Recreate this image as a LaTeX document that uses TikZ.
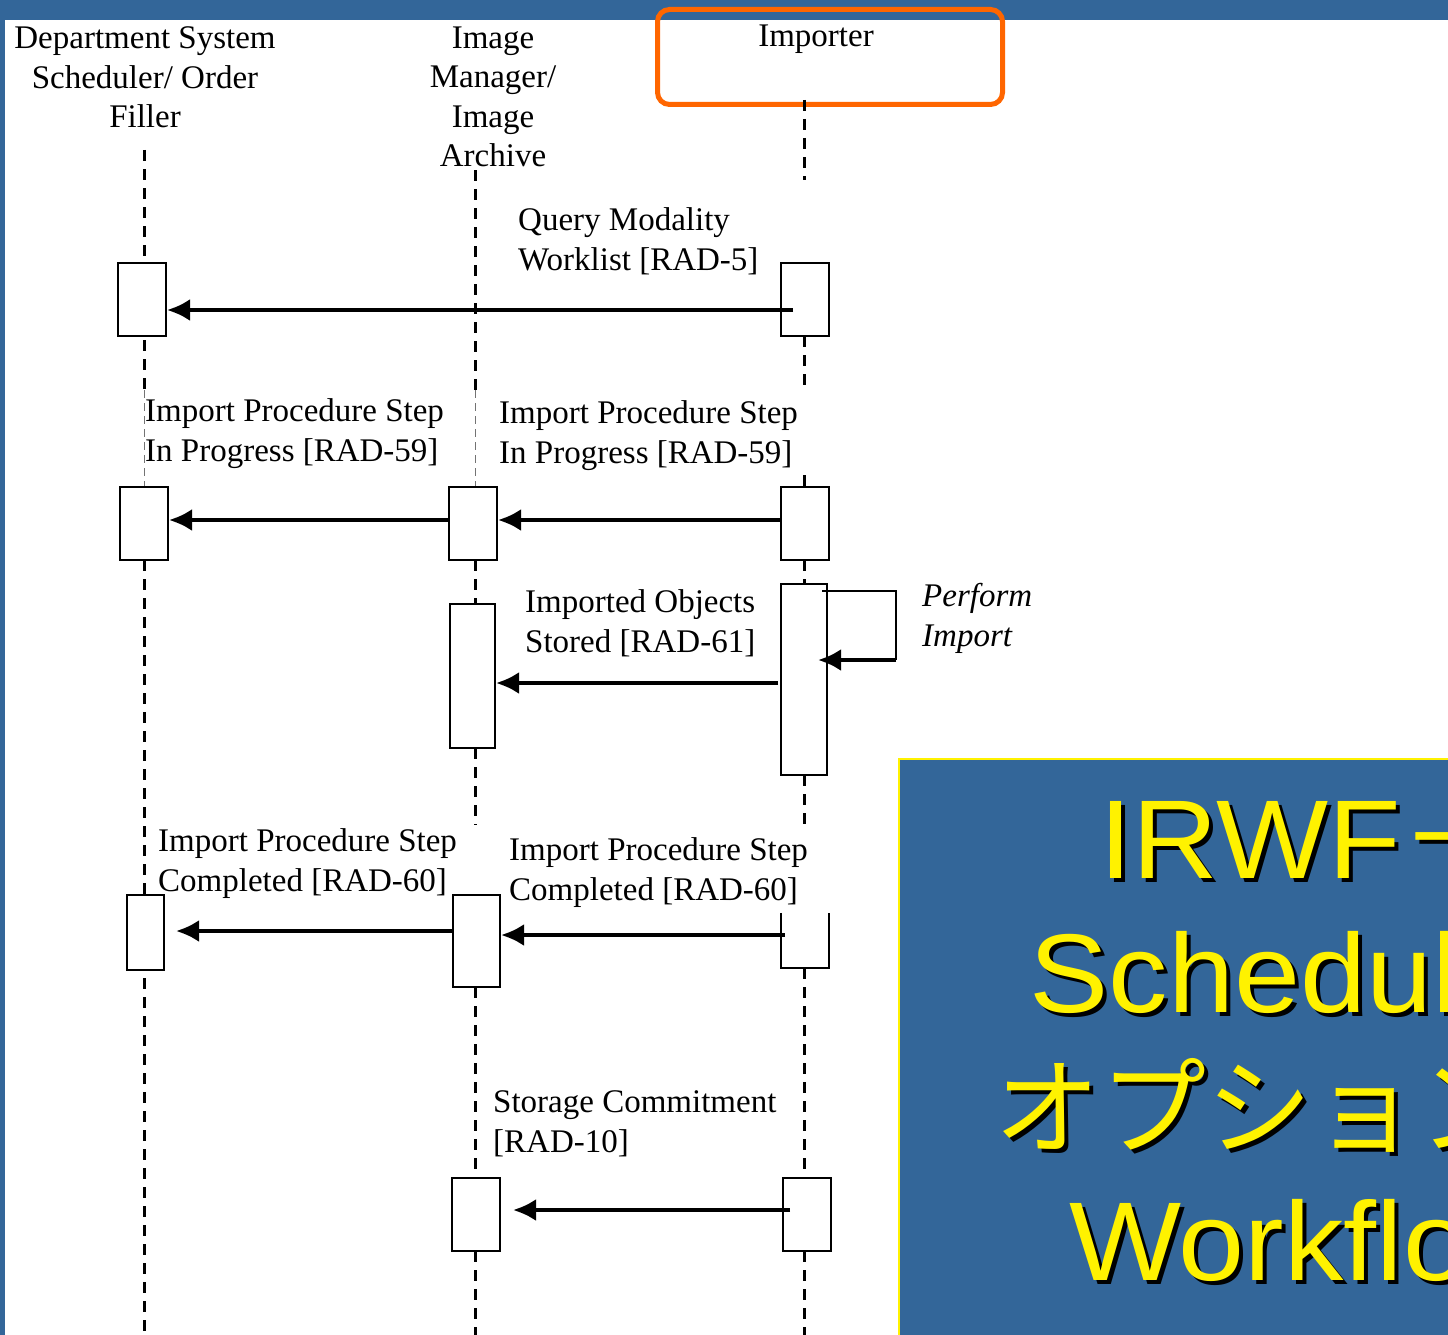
\documentclass[tikz,border=0pt]{standalone}
\usepackage{fontspec}
\setmainfont{Liberation Serif}
\newfontfamily\titlefont[FakeStretch=1.06]{Liberation Sans}
\newfontfamily\cjkfont{Noto Sans CJK JP}
\usetikzlibrary{positioning,calc,arrows.meta}
\definecolor{slideblue}{HTML}{336699}
\definecolor{hiorange}{HTML}{FF6600}

\begin{document}
\begin{tikzpicture}[
        x=1pt, y=-1pt,
        every node/.style={font=\fontsize{33}{39.5}\selectfont},
        actor/.style={align=center, anchor=north, inner sep=0pt},
        msglabel/.style={align=left, anchor=north west, inner sep=3pt},
        lifeline/.style={dash pattern=on 11pt off 8pt, line width=3pt},
        faintline/.style={dash pattern=on 8pt off 5pt, line width=1pt, black!55},
        act/.style 2 args={rectangle, draw, fill=white, line width=2pt, inner sep=0pt, minimum width=#1, minimum height=#2},
        msg/.style={-{Latex[length=23pt,width=22pt]}, line width=4pt},
        selfline/.style={line width=2pt},
        hilite/.style={rectangle, draw=hiorange, line width=5pt, rounded corners=12pt, minimum width=345pt, minimum height=95pt, inner sep=0pt},
        titlebox/.style={rectangle, draw=yellow, line width=2pt, fill=slideblue, anchor=north west, minimum width=600pt, minimum height=620pt, inner sep=0pt},
        titletxt/.style={anchor=base, inner sep=0pt, text=yellow, font=\titlefont\fontsize{112}{134}\selectfont},
        titleshadow/.style={titletxt, text=black}
    ]
    \useasboundingbox (0,0) rectangle (1448,1335);
    \fill[white] (0,0) rectangle (1448,1335);

    % Slide frame
    \fill[slideblue] (0,0) rectangle (1448,20);
    \fill[slideblue] (0,0) rectangle (5,1335);

    % Lifeline heads
    \node[actor] (dss) at (145,26.5) {Department System\\Scheduler/ Order\\Filler};
    \node[actor] (im) at (493,26.5) {Image\\Manager/\\Image\\Archive};
    \node[actor] (imp) at (816,24.5) {Importer};
    \node[hilite] (hl) at (830,57) {};

    % Lifelines
    \draw[lifeline] (144,150) -- (144,390);
    \draw[faintline] (144,390) -- (144,487);
    \draw[lifeline] (144,560) -- (144,1335);
    \foreach \ya/\yb in {170/390, 560/604, 748/825, 987/1178, 1251/1335}
        \draw[lifeline] (475,\ya) -- (475,\yb);
    \draw[faintline] (475,390) -- (475,487);
    \foreach \ya/\yb in {100/180, 336/390, 475/487, 560/584, 775/825, 968/1178, 1251/1335}
        \draw[lifeline] (804,\ya) -- (804,\yb);

    % Activation boxes
    \node[act={48pt}{73pt}] (dssA) at (142,299.5) {};
    \node[act={48pt}{73pt}] (impA) at (805,299.5) {};

    \node[act={48pt}{73pt}] (dssB) at (144,523.5) {};
    \node[act={48pt}{73pt}] (imB) at (473,523.5) {};
    \node[act={48pt}{73pt}] (impB) at (805,523.5) {};

    \node[act={45pt}{144pt}] (imC) at (472.5,676) {};
    \node[act={46pt}{191pt}] (impC) at (804,679.5) {};

    \node[act={37pt}{75pt}] (dssD) at (145.5,932.5) {};
    \node[act={47pt}{92pt}] (imD) at (476.5,941) {};
    \node[inner sep=0pt, fill=white, minimum width=48pt, minimum height=55pt] (impD) at (805,940.5) {};
    \draw[line width=2pt] (impD.north west) -- (impD.south west) -- (impD.south east) -- (impD.north east);

    \node[act={48pt}{73pt}] (imE) at (476,1214.5) {};
    \node[act={48pt}{73pt}] (impE) at (807,1214.5) {};

    % Messages
    \coordinate (qry) at (793,310);
    \draw[msg] (qry) -- (qry -| dssA.east);

    \draw[msg] ([yshift=3.5pt]imB.west) -- ([yshift=3.5pt]dssB.east);
    \draw[msg] ([yshift=3.5pt]impB.west) -- ([yshift=3.5pt]imB.east);

    \coordinate (loopA) at (822,591);
    \coordinate (loopB) at (896,660);
    \draw[selfline] (loopA) -| (loopB);
    \draw[msg] (loopB) -- ($(loopB -| impC.east)+(-10,0)$);
    \coordinate (stored) at (778,683);
    \draw[msg] (stored) -- (stored -| imC.east);

    \coordinate (doneL) at (453,931);
    \coordinate (doneR) at (785,935);
    \draw[msg] (doneL) -- ($(doneL -| dssD.east)+(11,0)$);
    \draw[msg] (doneR) -- (doneR -| imD.east);

    \coordinate (commit) at (790,1210);
    \draw[msg] (commit) -- ($(commit -| imE.east)+(12,0)$);

    % Message labels
    \node[msglabel] (lblQ) at (515,204.5) {Query Modality\\Worklist [RAD-5]};
    \node[msglabel] (lblIP1) at (142,395.5) {Import Procedure Step\\In Progress [RAD-59]};
    \node[msglabel] (lblIP2) at (496,397.5) {Import Procedure Step\\In Progress [RAD-59]};
    \node[msglabel] (lblObj) at (522,586.5) {Imported Objects\\Stored [RAD-61]};
    \node[msglabel, font=\fontsize{33}{39.5}\selectfont\itshape] (lblPerf) at (919,580.5) {Perform\\Import};
    \node[msglabel] (lblC1) at (155,825.5) {Import Procedure Step\\Completed [RAD-60]};
    \node[msglabel] (lblC2) at (506,834.5) {Import Procedure Step\\Completed [RAD-60]};
    \node[msglabel] (lblSC) at (490,1087.5) {Storage Commitment\\{}[RAD-10]};

    % Slide title
    \begin{scope}
        \clip (0,0) rectangle (1448,1335);
        \node[titlebox] (ttlbg) at (898,758) {};
        \foreach \ttl/\xx [count=\i] in {IRWF{\cjkfont －}/1306, Scheduled/1310, {\cjkfont\fontsize{106}{134}\selectfont オプション}/1259, Workflow/1312} {
            \node[titleshadow] (ttls\i) at (\xx+4,748+134*\i) {\ttl};
            \node[titletxt] (ttl\i) at (\xx,744+134*\i) {\ttl};
        }
    \end{scope}
\end{tikzpicture}
\end{document}
